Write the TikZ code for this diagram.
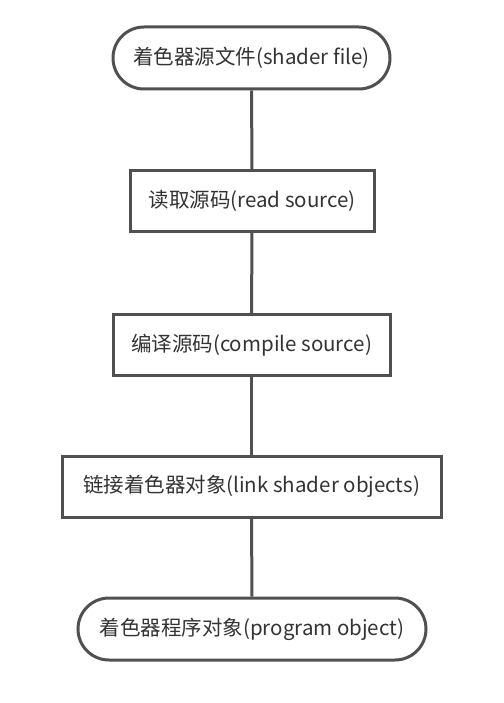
\documentclass[tikz,border=0pt]{standalone}
\usepackage{fontspec}
\setmainfont{Noto Sans CJK SC}
\usepackage{tikz}
\usetikzlibrary{positioning}
\definecolor{linegray}{HTML}{505050}
\definecolor{textgray}{HTML}{333333}
\tikzstyle{terminal}=[rectangle,rounded corners=31pt,draw=linegray,line width=3pt,fill=white,minimum height=62pt,inner sep=0pt,text=textgray,font=\fontsize{20.5}{24}\selectfont]
\tikzstyle{process}=[rectangle,draw=linegray,line width=3pt,fill=white,minimum height=61pt,inner sep=0pt,text=textgray,font=\fontsize{20.5}{24}\selectfont]
\tikzstyle{link} = [draw,line width=3pt,draw=linegray]

\begin{document}
\begin{tikzpicture}[x=1pt,y=-1pt]
    \useasboundingbox (0,0) rectangle (503,703);
    % the five steps, top to bottom
    \node[terminal,minimum width=277pt] (file) at (251.5,58) {着色器源文件(shader file)};
    \node[process,minimum width=244pt] (read) at (252,201) {读取源码(read source)};
    \node[process,minimum width=277pt] (compile) at (251.5,345) {编译源码(compile source)};
    \node[process,minimum width=379pt] (linkobj) at (251.5,486.5) {链接着色器对象(link shader objects)};
    \node[terminal,minimum width=348pt] (program) at (252,629) {着色器程序对象(program object)};
    % connect them
    \foreach \source/\dest in {file/read, read/compile, compile/linkobj, linkobj/program}
        \path[link] (\source) -- (\dest);
\end{tikzpicture}
\end{document}
